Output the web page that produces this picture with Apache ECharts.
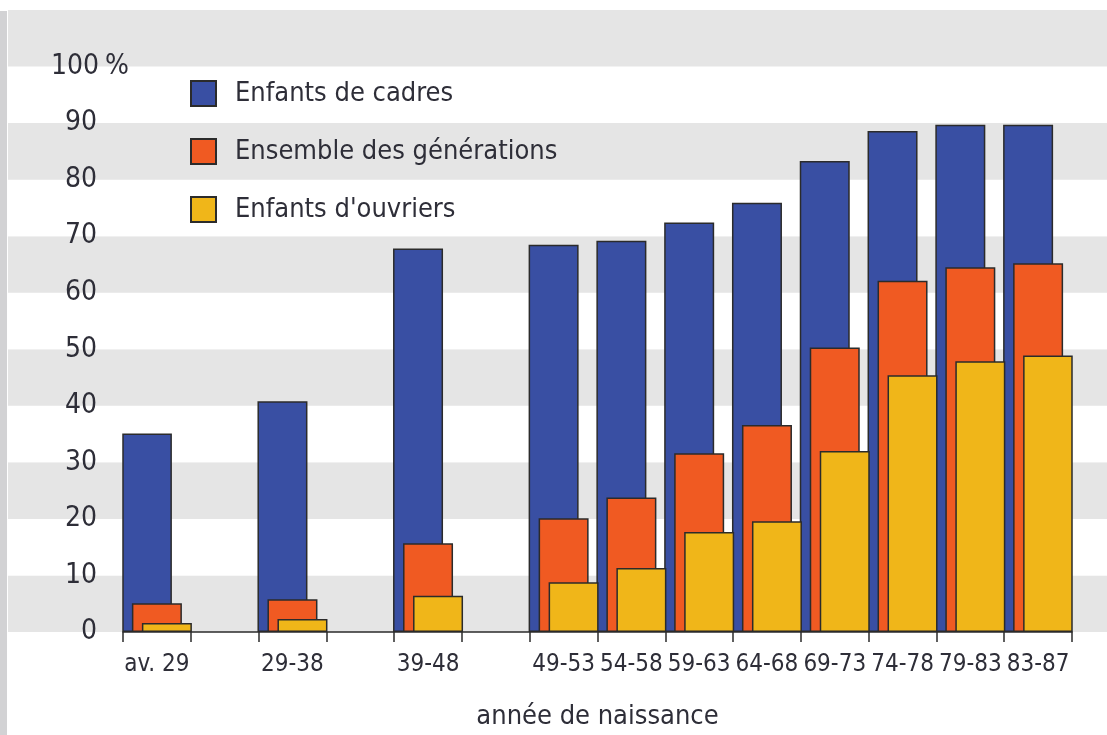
<!DOCTYPE html>
<html>
<head>
<meta charset="utf-8">
<script src="https://cdn.jsdelivr.net/npm/echarts@6/dist/echarts.min.js"></script>
<style>
  html, body { margin: 0; padding: 0; background: #fff; }
  #chart { width: 1107px; height: 735px; }
</style>
</head>
<body>
<div id="chart"></div>
<script>
// categories (empty strings are spacer slots, the early cohorts are wider)
var categories = ['av. 29', '', '29-38', '', '39-48', '', '49-53', '54-58', '59-63', '64-68', '69-73', '74-78', '79-83', '83-87'];
var seriesNames = ['Enfants de cadres', 'Ensemble des générations', "Enfants d'ouvriers"];
var cadres    = [35.1, null, 40.8, null, 67.8, null, 68.5, 69.2, 72.4, 75.9, 83.3, 88.6, 89.7, 89.7];
var ensemble  = [5.1, null, 5.8, null, 15.7, null, 20.1, 23.8, 31.6, 36.6, 50.3, 62.1, 64.5, 65.2];
var ouvriers  = [1.6, null, 2.3, null, 6.4, null, 8.8, 11.3, 17.7, 19.6, 32.0, 45.4, 47.9, 48.9];
var yTicks = [0, 10, 20, 30, 40, 50, 60, 70, 80, 90, 100];

var FONT = "'Liberation Sans Narrow', 'DejaVu Sans Condensed', sans-serif";
var TXT = '#2e2e38';
var colors = ['#394fa3', '#f05a22', '#f0b619'];

var chart = echarts.init(document.getElementById('chart'));

function bar(name, data, i) {
    return {
        name: name,
        type: 'bar',
        xAxisIndex: 1,
        yAxisIndex: 1,
        data: data,
        barWidth: 50,
        barGap: '-80%',
        itemStyle: { color: colors[i], borderColor: '#2b2b2b', borderWidth: 1.5 }
    };
}

chart.setOption({
    animation: false,
    textStyle: { fontFamily: FONT },
    graphic: [{
        type: 'rect',
        shape: { x: 0, y: 11, width: 7, height: 724 },
        style: { fill: '#d2d2d4' },
        z: -1
    }],
    legend: {
        orient: 'vertical',
        left: 190,
        top: 80,
        padding: 0,
        itemWidth: 25,
        itemHeight: 25,
        itemGap: 31,
        icon: 'rect',
        textStyle: { fontFamily: FONT, fontSize: 27, lineHeight: 25, color: TXT, padding: [0, 0, 0, 14] },
        data: seriesNames
    },
    grid: [
        // background grid for the bands
        { left: 8, right: 0, top: 10, bottom: 103, outerBoundsMode: 'none' },
        // chart grid
        { left: 123, right: 35, top: 10, bottom: 103, outerBoundsMode: 'none' }
    ],
    xAxis: [
        { gridIndex: 0, type: 'value', show: false, min: 0, max: 1 },
        {
            gridIndex: 1,
            type: 'category',
            data: categories,
            boundaryGap: true,
            z: 10,
            axisLine: { show: true, lineStyle: { color: '#2b2b2b', width: 1.5 } },
            axisTick: { show: true, interval: 0, alignWithLabel: false, inside: false, length: 10, lineStyle: { color: '#2b2b2b', width: 1.5 } },
            axisLabel: { interval: 0, margin: 21, fontSize: 24, color: TXT, fontFamily: FONT },
            name: 'année de naissance',
            nameLocation: 'middle',
            nameGap: 71,
            nameMoveOverlap: false,
            nameTextStyle: { fontSize: 27, color: TXT, fontFamily: FONT }
        }
    ],
    yAxis: [
        {
            gridIndex: 0,
            type: 'value',
            min: 0, max: 110, interval: 10,
            axisLine: { show: false },
            axisTick: { show: false },
            axisLabel: { show: false },
            splitLine: { show: false },
            splitArea: { show: true, areaStyle: { color: ['#e5e5e5', '#ffffff'] } }
        },
        {
            gridIndex: 1,
            type: 'value',
            min: 0, max: 110, interval: 10,
            axisLine: { show: false },
            axisTick: { show: false },
            splitLine: { show: false },
            axisLabel: {
                align: 'left',
                margin: 70,
                color: TXT,
                fontFamily: FONT,
                formatter: function (v) {
                    if (yTicks.indexOf(v) < 0) return '';
                    return v === 100 ? '{n|100}{p| %}' : '{n|' + v + '}';
                },
                rich: {
                    n: { width: 44, align: 'right', fontSize: 28, color: TXT, fontFamily: FONT },
                    p: { fontSize: 28, color: TXT, fontFamily: FONT }
                }
            }
        }
    ],
    series: [
        bar(seriesNames[0], cadres, 0),
        bar(seriesNames[1], ensemble, 1),
        bar(seriesNames[2], ouvriers, 2)
    ]
});
</script>
</body>
</html>
